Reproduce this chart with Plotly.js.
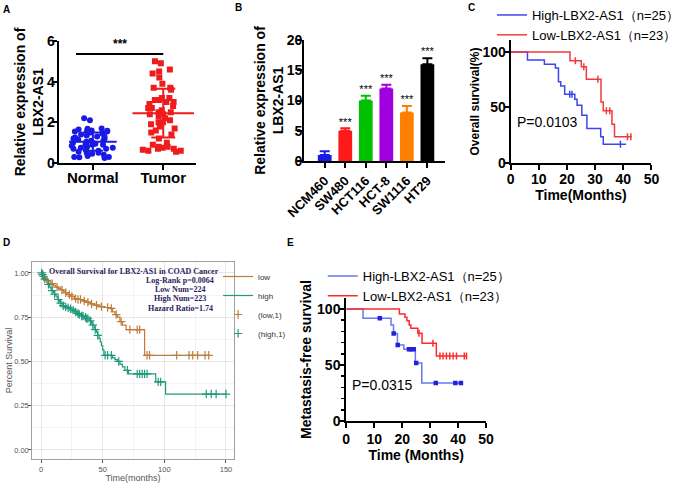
<!DOCTYPE html>
<html><head><meta charset="utf-8">
<script src="https://cdn.plot.ly/plotly-3.0.1.min.js"></script>
<style>html,body{margin:0;padding:0;background:#fff;overflow:hidden}#chart{width:685px;height:483px}</style>
</head><body><div id="chart"></div>
<script>
// ---------- Panel A: relative expression, Normal vs Tumor ----------
const groupNames = ['Normal', 'Tumor'];
const normalValues = [2.2, 2.1, 1.7, 1.68, 1.65, 1.6, 1.6, 1.58, 1.55, 1.55, 1.5, 1.45, 1.4, 1.35, 1.3, 1.3,
  1.25, 1.2, 1.2, 1.15, 1.1, 1.1, 1.05, 1.0, 1.0, 0.95, 0.95, 0.9, 0.9, 0.88, 0.85, 0.8, 0.75, 0.75, 0.7,
  0.7, 0.65, 0.6, 0.55, 0.5, 0.5, 0.45, 0.4, 0.35, 0.3, 0.3, 0.25, 0.28];
const tumorValues = [5.0, 4.9, 4.6, 4.5, 4.4, 4.2, 3.9, 3.7, 3.7, 3.6, 3.2, 3.2, 3.1, 3.1, 3.0, 3.0, 2.9,
  2.8, 2.7, 2.7, 2.6, 2.5, 2.5, 2.4, 2.4, 2.3, 2.2, 2.1, 2.0, 2.0, 1.9, 1.8, 1.7, 1.6, 1.5, 1.4, 1.2, 1.0,
  0.9, 0.8, 0.8, 0.75, 0.7, 0.7, 0.65, 0.6, 0.6, 0.55];
const groupMeans = [1.05, 2.45];
const groupSDs = [0.45, 1.2];
const groupSignificance = '***';

// ---------- Panel B: cell lines ----------
const cellLines = ['NCM460', 'SW480', 'HCT116', 'HCT-8', 'SW1116', 'HT29'];
const cellExpression = [1, 5, 10, 12, 8, 16];
const cellError = [0.6, 0.4, 0.8, 0.6, 1.1, 1.0];
const cellSignificance = ['', '***', '***', '***', '***', '***'];

// ---------- Panel C: overall survival ----------
const osHighName = 'High-LBX2-AS1（n=25）';
const osHighTime = [0, 6, 12, 15.9, 17, 17.8, 19.2, 22.8, 23.6, 25.3, 27.1, 32, 32.9, 41];
const osHighSurv = [100, 92.8, 88.9, 85.6, 73.3, 69.4, 62, 57.4, 52, 43, 31, 23.7, 16.8, 16.8];
const osHighCensor = [21, 21.8, 39];
const osLowName = 'Low-LBX2-AS1（n=23）';
const osLowTime = [0, 21.1, 25.1, 26.9, 32.1, 32.9, 36, 36.9, 43];
const osLowSurv = [100, 92, 86.8, 75.4, 55, 47, 35, 23.7, 23.7];
const osLowCensor = [23, 26, 31, 34, 35.2, 41.5, 42.7];
const osPValue = 'P=0.0103';

// ---------- Panel D: COAD overall survival (GEPIA-style) ----------
const coadLowTime = [0, 1, 2, 3, 4, 5, 6, 8, 10, 12, 14, 16, 18, 20, 22, 24, 27, 30, 33, 36, 40, 43, 47, 51,
  56, 58, 60, 62, 64, 66, 69, 84, 136];
const coadLowSurv = [1.0, 0.99, 0.98, 0.975, 0.965, 0.958, 0.95, 0.94, 0.93, 0.92, 0.912, 0.904, 0.896, 0.888,
  0.878, 0.868, 0.855, 0.85, 0.842, 0.835, 0.825, 0.818, 0.81, 0.805, 0.80, 0.78, 0.765, 0.75, 0.725, 0.705,
  0.68, 0.535, 0.535];
const coadLowCensor = [2, 5, 9, 13, 17, 20, 23, 25, 28, 30, 32, 35, 38, 41, 45, 49, 54, 57, 61, 65, 72, 78,
  80, 86, 88, 110, 120, 123, 127, 133, 136];
const coadHighTime = [0, 1, 2, 3, 4, 5, 6, 7, 8, 9, 10, 11, 12, 13, 14, 15, 16, 17, 18, 19, 21, 23, 25, 27, 29,
  31, 33, 35, 37, 39, 41, 42, 43, 44, 45, 46, 47, 48, 49, 50, 51, 58, 60, 62, 64, 66, 68, 71, 93, 101, 150];
const coadHighSurv = [1.0, 0.99, 0.98, 0.965, 0.955, 0.945, 0.935, 0.92, 0.91, 0.9, 0.89, 0.88, 0.87, 0.86,
  0.85, 0.84, 0.83, 0.825, 0.815, 0.808, 0.803, 0.798, 0.79, 0.78, 0.772, 0.765, 0.757, 0.75, 0.742, 0.73,
  0.715, 0.705, 0.69, 0.68, 0.665, 0.648, 0.63, 0.61, 0.59, 0.565, 0.535, 0.52, 0.51, 0.50, 0.485, 0.47,
  0.45, 0.43, 0.385, 0.316, 0.316];
const coadHighCensor = [0.5, 1, 1.5, 3, 6, 9, 11, 14, 16, 18, 20, 22, 24, 26, 28, 30, 31, 33, 34, 36, 37, 38,
  40, 42, 44, 46, 52, 54, 57, 63, 70, 78, 80, 82, 84, 86, 95, 97, 134, 138, 142, 150];
const coadLegendNames = ['low', 'high', '(low,1)', '(high,1)'];
const coadInfoLines = ['Overall Survival for LBX2-AS1 in COAD Cancer', 'Log-Rank p=0.0064', 'Low Num=224',
  'High Num=223', 'Hazard Ratio=1.74'];

// ---------- Panel E: metastasis-free survival ----------
const mfsHighName = 'High-LBX2-AS1（n=25）';
const mfsHighTime = [0, 6, 16, 16.9, 18.3, 20.6, 24.7, 27, 41];
const mfsHighSurv = [100, 91.7, 85.7, 78, 67.9, 64, 51.8, 34, 34];
const mfsHighCensor = [12, 16.95, 18.4, 22.4, 23.2, 24.1, 25, 32, 39, 41];
const mfsLowName = 'Low-LBX2-AS1（n=23）';
const mfsLowTime = [0, 19, 21, 21.7, 22.5, 23.1, 25.6, 27.1, 32.2, 43];
const mfsLowSurv = [100, 95.5, 92.6, 89.6, 85.7, 82.7, 78.3, 69.3, 58, 58];
const mfsLowCensor = [26, 31, 33.5, 34.6, 35.8, 37, 38.2, 39.4, 42.2, 43];
const mfsPValue = 'P=0.0315';

// ================= styling & layout =================
const W = 685, H = 483;
const F = 'Arial, "Liberation Sans", sans-serif';
const domX = (a, b) => [a / W, b / W];
const domY = (top, bottom) => [1 - bottom / H, 1 - top / H];
const groupColors = ['#1a1ae6', '#ee1c1c'];
const groupSymbols = ['circle', 'square'];
const meanLineSizes = [34, 44];
const sdCapWidths = [10, 12];
const cellColors = ['#1a1ae6', '#ff1a1a', '#00c000', '#a000e0', '#ff8000', '#000000'];
const blueC = '#3a46f0', redC = '#f03a3a';
const coadLowColor = '#bf7b3b', coadHighColor = '#1f9a7c';
const blueE = '#6677f2', blueEmark = '#2222dd', redE = '#ff2a2a';

function stepAt(times, surv, t) {
  let v = surv[0];
  for (let i = 0; i < times.length; i++) if (times[i] <= t) v = surv[i];
  return v;
}

const traces = [];
// Panel A
[normalValues, tumorValues].forEach((vals, i) => {
  traces.push({
    type: 'box', y: vals, x0: i + 1, name: groupNames[i], xaxis: 'x', yaxis: 'y',
    boxpoints: 'all', jitter: 1, pointpos: 0, width: 0.7,
    fillcolor: 'rgba(0,0,0,0)', line: {width: 0, color: 'rgba(0,0,0,0)'},
    marker: {color: groupColors[i], size: 6, symbol: groupSymbols[i]},
    showlegend: false, hoveron: 'points'
  });
  traces.push({
    type: 'scatter', mode: 'markers', x: [i + 1], y: [groupMeans[i]], xaxis: 'x', yaxis: 'y',
    marker: {symbol: 'line-ew', size: meanLineSizes[i], line: {width: 2, color: groupColors[i]}},
    error_y: {type: 'data', array: [groupSDs[i]], width: sdCapWidths[i], thickness: 2, color: groupColors[i]},
    showlegend: false
  });
});
// Panel B
cellLines.forEach((c, i) => {
  traces.push({
    type: 'bar', x: [c], y: [cellExpression[i]], xaxis: 'x2', yaxis: 'y2', width: 0.67,
    marker: {color: cellColors[i], line: {width: 0}},
    error_y: {type: 'data', symmetric: false, array: [cellError[i]], arrayminus: [0], width: 5,
      thickness: 2, color: cellColors[i]},
    showlegend: false, name: c
  });
});
traces.push({
  type: 'scatter', mode: 'text', x: cellLines, y: cellExpression.map((v, i) => v + cellError[i]),
  text: cellSignificance, textposition: 'top center', xaxis: 'x2', yaxis: 'y2',
  textfont: {family: F, size: 11, color: '#000'}, showlegend: false, hoverinfo: 'skip'
});
// Kaplan-Meier helper
function km(times, surv, censor, name, color, ax, leg, markerSym, markerColor, markerSize) {
  traces.push({
    type: 'scatter', mode: 'lines', x: times, y: surv, name: name, xaxis: 'x' + ax, yaxis: 'y' + ax,
    line: {shape: 'hv', width: 1.5, color: color}, legend: leg
  });
  traces.push({
    type: 'scatter', mode: 'markers', x: censor, y: censor.map(t => stepAt(times, surv, t)),
    xaxis: 'x' + ax, yaxis: 'y' + ax, showlegend: false, name: name + ' censored',
    marker: {symbol: markerSym, size: markerSize, color: markerColor, line: {width: 1.5, color: markerColor}}
  });
}
// Panel C
km(osHighTime, osHighSurv, osHighCensor, osHighName, blueC, 3, 'legend', 'line-ns', blueC, 5);
km(osLowTime, osLowSurv, osLowCensor, osLowName, redC, 3, 'legend', 'line-ns', redC, 5);
// Panel D
traces.push({type: 'scatter', mode: 'lines', x: coadLowTime, y: coadLowSurv, name: coadLegendNames[0],
  xaxis: 'x4', yaxis: 'y4', line: {shape: 'hv', width: 1.2, color: coadLowColor}, legend: 'legend2'});
traces.push({type: 'scatter', mode: 'lines', x: coadHighTime, y: coadHighSurv, name: coadLegendNames[1],
  xaxis: 'x4', yaxis: 'y4', line: {shape: 'hv', width: 1.2, color: coadHighColor}, legend: 'legend2'});
traces.push({type: 'scatter', mode: 'markers', x: coadLowCensor,
  y: coadLowCensor.map(t => stepAt(coadLowTime, coadLowSurv, t)), name: coadLegendNames[2],
  xaxis: 'x4', yaxis: 'y4', legend: 'legend2',
  marker: {symbol: 'cross-thin', size: 6, line: {width: 1.2, color: coadLowColor}}});
traces.push({type: 'scatter', mode: 'markers', x: coadHighCensor,
  y: coadHighCensor.map(t => stepAt(coadHighTime, coadHighSurv, t)), name: coadLegendNames[3],
  xaxis: 'x4', yaxis: 'y4', legend: 'legend2',
  marker: {symbol: 'cross-thin', size: 6, line: {width: 1.2, color: coadHighColor}}});
// Panel E
km(mfsHighTime, mfsHighSurv, mfsHighCensor, mfsHighName, blueE, 5, 'legend3', 'square', blueEmark, 3);
km(mfsLowTime, mfsLowSurv, mfsLowCensor, mfsLowName, redE, 5, 'legend3', 'line-ns', redE, 5);

const gp = (extra) => Object.assign({
  showline: true, linecolor: '#000', linewidth: 2, ticks: 'outside', ticklen: 5, tickwidth: 2,
  tickcolor: '#000', showgrid: false, zeroline: false, fixedrange: true,
  tickfont: {family: F, size: 14, weight: 'bold', color: '#000'}
}, extra);
const gpTitle = (text, size, standoff) => ({text: text, standoff: standoff,
  font: {family: F, size: size, weight: 'bold', color: '#000'}});
const gg = (extra) => Object.assign({
  showline: true, mirror: true, linecolor: '#a0a0a0', linewidth: 1, ticks: 'outside', ticklen: 3,
  tickwidth: 1, tickcolor: '#555', showgrid: true, gridcolor: '#e6e6e6', gridwidth: 1, zeroline: false,
  fixedrange: true, tickfont: {family: F, size: 7.5, color: '#555'}
}, extra);

const panelLetters = [['A', 7, 9], ['B', 244, 8], ['C', 482, 8], ['D', 7, 243], ['E', 297, 243]];
const annotations = panelLetters.map(([t, x, y]) => ({
  text: t, xref: 'paper', yref: 'paper', x: x / W, y: 1 - y / H, xanchor: 'center', yanchor: 'middle',
  showarrow: false, font: {family: F, size: 10, weight: 'bold', color: '#000'}
}));
annotations.push({text: groupSignificance, xref: 'x', yref: 'y', x: 1.38, y: 5.4, yanchor: 'bottom',
  showarrow: false, font: {family: F, size: 12, weight: 'bold', color: '#000'}});
annotations.push({text: osPValue, xref: 'x3', yref: 'y3', x: 1.6, y: 37, xanchor: 'left',
  showarrow: false, font: {family: F, size: 14, color: '#000'}});
annotations.push({text: mfsPValue, xref: 'x5', yref: 'y5', x: 1.4, y: 32, xanchor: 'left',
  showarrow: false, font: {family: F, size: 14, color: '#000'}});
const infoPos = [[75.4, 1.006], [112.7, 0.955], [112.7, 0.904], [112.7, 0.853], [112.7, 0.802]];
coadInfoLines.forEach((t, i) => annotations.push({
  text: t, xref: 'x4', yref: 'y4', x: infoPos[i][0], y: infoPos[i][1], xanchor: 'center', yanchor: 'middle',
  showarrow: false, font: {family: '"Liberation Serif", "Times New Roman", serif', size: 8, weight: 'bold',
    color: '#2c1d5e'}
}));

const layout = {
  width: W, height: H, margin: {l: 0, r: 0, t: 0, b: 0}, paper_bgcolor: '#fff', plot_bgcolor: 'rgba(0,0,0,0)',
  barmode: 'overlay', font: {family: F},
  xaxis: gp({anchor: 'y', domain: domX(60, 200), range: [0.514, 2.46], tickvals: [1, 2], ticktext: groupNames,
    ticklabelstandoff: -5, tickfont: {family: F, size: 15, weight: 'bold', color: '#000'}}),
  yaxis: gp({anchor: 'x', domain: domY(41, 163), range: [0, 6], tickvals: [0, 2, 4, 6], ticklabelstandoff: -6,
    title: gpTitle('Relative expression of<br>LBX2-AS1', 14, 0)}),
  xaxis2: gp({anchor: 'y2', domain: domX(311, 455), range: [-1, 5.86], type: 'category', tickangle: -45,
    tickfont: {family: F, size: 13, weight: 'bold', color: '#000'}}),
  yaxis2: gp({anchor: 'x2', domain: domY(40, 161), range: [0, 20], tickvals: [0, 5, 10, 15, 20],
    ticklabelstandoff: -8, title: gpTitle('Relative expression of<br>LBX2-AS1', 14, 0)}),
  xaxis3: gp({anchor: 'y3', domain: domX(522, 666), range: [0, 50], dtick: 10, ticklabelstandoff: -3,
    title: gpTitle('Time(Months)', 14, 4)}),
  yaxis3: gp({anchor: 'x3', domain: domY(40, 163), range: [0, 110.8], tickvals: [0, 50, 100],
    ticklabelstandoff: -5, title: gpTitle('Overall survival(%)', 12, 0)}),
  xaxis4: gg({anchor: 'y4', domain: domX(33, 239), range: [-7.1, 156.3], tickvals: [0, 50, 100, 150],
    minor: {showgrid: true, gridcolor: '#f3f3f3', dtick: 25},
    title: {text: 'Time(months)', standoff: 3, font: {family: F, size: 9, color: '#555'}}}),
  yaxis4: gg({anchor: 'x4', domain: domY(262, 459), range: [-0.051, 1.062], tickvals: [0, 0.25, 0.5, 0.75, 1],
    ticktext: ['0.00', '0.25', '0.50', '0.75', '1.00'], ticklabelstandoff: -2,
    minor: {showgrid: true, gridcolor: '#f3f3f3', dtick: 0.125},
    title: {text: 'Percent Survival', standoff: 0, font: {family: F, size: 9, color: '#555'}}}),
  xaxis5: gp({anchor: 'y5', domain: domX(354, 497), range: [0, 50], dtick: 10, ticklabelstandoff: -1,
    title: gpTitle('Time (Months)', 14, 4)}),
  yaxis5: gp({anchor: 'x5', domain: domY(298, 421), range: [0, 109.8], tickvals: [0, 50, 100],
    ticklabelstandoff: -4,
    minor: {ticks: 'outside', ticklen: 3, tickwidth: 1.5, tickcolor: '#000', dtick: 10},
    title: gpTitle('Metastasis-free survival', 14, 2)}),
  legend: {x: 503 / W, y: 1, xanchor: 'left', yanchor: 'top', bgcolor: 'rgba(0,0,0,0)',
    font: {family: F, size: 13, color: '#000'}, tracegroupgap: 0},
  legend2: {x: 223 / W, y: 1 - 262 / H, xanchor: 'left', yanchor: 'top', bgcolor: 'rgba(0,0,0,0)',
    font: {family: F, size: 8, color: '#333'}, tracegroupgap: 0},
  legend3: {x: 330 / W, y: 1 - 261 / H, xanchor: 'left', yanchor: 'top', bgcolor: 'rgba(0,0,0,0)',
    font: {family: F, size: 13, color: '#000'}, tracegroupgap: 0},
  shapes: [{type: 'line', xref: 'x', yref: 'y', x0: 0.76, x1: 2.0, y0: 5.36, y1: 5.36,
    line: {color: '#000', width: 2}}],
  annotations: annotations
};

Plotly.newPlot('chart', traces, layout, {displayModeBar: false, staticPlot: true});
</script>
</body></html>
